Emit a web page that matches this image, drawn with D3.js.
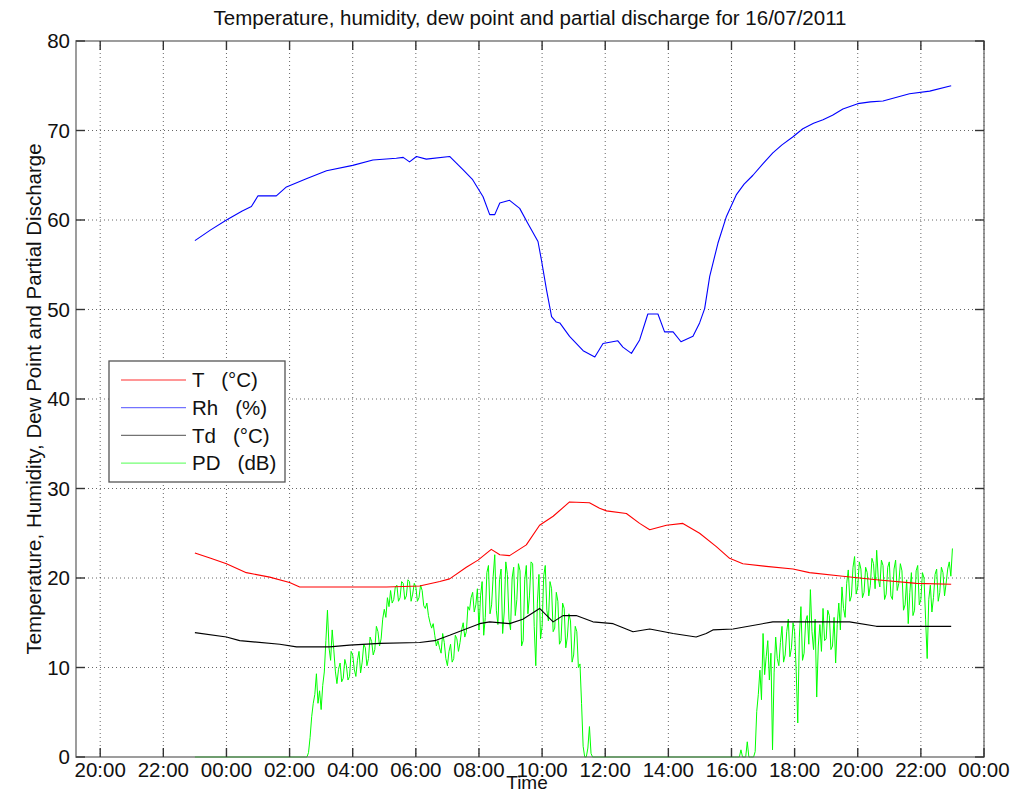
<!DOCTYPE html>
<html>
<head>
<meta charset="utf-8">
<script src="https://cdnjs.cloudflare.com/ajax/libs/d3/7.8.5/d3.min.js"></script>
<style>
  body { margin: 0; background: #fff; }
  svg text { font-family: "Liberation Sans", Arial, Helvetica, sans-serif; fill: #111; }
  .legend text { white-space: pre; }
</style>
</head>
<body>
<div id="chart"></div>
<script>
// hours are counted from 16/07/2011 00:00 (negative = evening of the 15th)
var titleText = "Temperature, humidity, dew point and partial discharge for 16/07/2011";
var yLabelText = "Temperature, Humidity, Dew Point and Partial Discharge";
var xLabelText = "Time";
var yTicks = [0, 10, 20, 30, 40, 50, 60, 70, 80];

// relative humidity (%)
var rhData = [[-1.0,57.7],[-0.5,58.9],[0,60.0],[0.5,61.0],[0.79,61.5],[1.0,62.7],[1.58,62.7],[1.9,63.7],
  [2.53,64.6],[3.17,65.5],[4.0,66.1],[4.64,66.7],[5.38,66.9],[5.6,67.0],[5.8,66.5],[6.02,67.1],[6.33,66.8],
  [7.07,67.1],[7.5,65.6],[7.8,64.5],[8.13,62.6],[8.34,60.6],[8.5,60.6],[8.66,61.9],[8.97,62.2],[9.29,61.3],
  [9.55,59.6],[9.87,57.6],[9.98,55.5],[10.14,52.2],[10.3,49.2],[10.45,48.6],[10.56,48.5],[10.87,47.0],
  [11.3,45.4],[11.67,44.7],[11.93,46.2],[12.4,46.5],[12.56,45.8],[12.83,45.1],[13.09,46.6],[13.35,49.5],
  [13.67,49.5],[13.88,47.5],[14.15,47.5],[14.4,46.4],[14.78,47.0],[14.99,48.5],[15.15,50.1],[15.31,53.7],
  [15.57,57.4],[15.84,60.4],[16.15,62.8],[16.4,64.0],[16.68,65.0],[17.0,66.3],[17.31,67.5],[17.6,68.4],
  [17.95,69.3],[18.26,70.2],[18.6,70.8],[18.9,71.2],[19.2,71.7],[19.53,72.4],[20.0,73.0],[20.4,73.2],
  [20.8,73.3],[21.64,74.1],[22.28,74.4],[22.96,75.0]];

// temperature (°C)
var tData = [[-1.0,22.8],[-0.5,22.2],[0,21.6],[0.63,20.6],[1.37,20.1],[2.0,19.5],[2.32,19.0],[3.8,19.0],
  [5.07,19.0],[6.12,19.1],[6.76,19.6],[7.07,19.9],[7.6,21.2],[7.97,22.0],[8.39,23.2],[8.66,22.6],[8.97,22.5],
  [9.5,23.7],[9.92,25.9],[10.35,26.9],[10.87,28.5],[11.5,28.4],[11.82,27.8],[12.04,27.5],[12.67,27.2],
  [13.09,26.1],[13.41,25.4],[13.94,25.9],[14.46,26.1],[14.99,25.0],[15.52,23.5],[15.94,22.2],[16.36,21.6],
  [17.1,21.3],[17.95,21.0],[18.47,20.6],[19.53,20.2],[20.59,19.8],[21.86,19.4],[22.96,19.3]];

// dew point (°C)
var tdData = [[-1,13.9],[0,13.4],[0.42,13.0],[1.69,12.6],[2.22,12.3],[3.27,12.3],[3.9,12.5],[4.86,12.7],
  [6.12,12.8],[6.6,13.0],[7.07,13.6],[8.02,14.9],[8.34,15.1],[8.97,14.9],[9.39,15.4],[9.92,16.6],[10.35,15.1],
  [10.66,15.8],[11.08,15.8],[11.61,15.1],[12.25,14.9],[12.88,14.0],[13.41,14.3],[14.15,13.8],[14.88,13.4],
  [15.2,13.8],[15.41,14.2],[16.05,14.3],[16.36,14.5],[17.31,15.1],[19.74,15.1],[20.59,14.6],[22.96,14.6]];

// partial discharge (dB), one reading every 3 minutes while active, 0 otherwise
var pdStartHour = -1;
var pdStepHours = 0.05;
var pdBurstAStart = 2.5;
var pdBurstA = [
  0,0,0.5,2.2,4.5,6.0,7.0,9.3,6.0,7.4,            // 02:30
  5.3,8.0,9.5,13.0,16.4,12.2,10.8,14.2,12.0,9.6,  // 03:00
  8.2,9.8,10.5,8.4,8.8,10.9,10.2,8.6,9.0,11.8,    // 03:30
  11.4,9.8,9.0,10.8,11.8,9.4,10.6,12.6,12.2,10.2, // 04:00
  11.0,13.4,12.9,11.4,12.0,14.6,14.0,12.4,13.2,15.4, // 04:30
  16.5,15.6,17.8,16.8,18.6,17.2,17.6,19.0,19.2,17.4, // 05:00
  17.8,19.6,19.4,17.6,18.0,19.8,19.6,17.4,18.2,19.4, // 05:30
  19.0,17.4,17.8,19.2,18.6,16.9,16.6,17.2,15.8,15.0, // 06:00
  14.4,14.9,13.6,12.4,13.0,12.2,11.6,13.8,12.8,11.0, // 06:30
  10.2,11.8,12.6,10.6,11.0,13.6,13.2,11.8,12.8,14.2, // 07:00
  15.0,13.4,14.0,16.8,16.4,17.8,18.4,16.2,17.0,18.8, // 07:30
  14.2,18.0,19.6,13.6,15.6,20.6,21.4,16.0,17.0,20.2, // 08:00
  22.6,16.4,14.8,19.8,21.0,13.8,16.2,21.8,20.4,15.4, // 08:30
  14.2,20.0,21.2,15.8,17.6,21.6,20.8,12.4,13.0,19.8, // 09:00
  21.4,16.0,18.0,21.8,21.6,14.6,10.2,17.2,20.4,13.2, // 09:30
  14.6,20.2,21.4,16.4,15.2,19.6,18.8,14.0,14.4,18.4, // 10:00
  17.4,12.6,13.0,17.2,16.6,12.2,13.4,16.0,15.2,10.6, // 10:30
  11.4,14.6,14.0,10.0,10.4,6.0,1.2,0,0,1.0,          // 11:00
  3.4,0.4,0];                                        // 11:30
var pdBurstBStart = 16.1;
var pdBurstB = [
  0,0,0,0,0.8,0,0,0,                                 // 16:06
  1.7,0,0,0,0,0.6,5.1,7.0,9.7,6.4,                   // 16:30
  13.8,9.2,11.2,13.0,8.6,11.6,0.8,9.4,13.4,11.0,     // 17:00
  10.2,12.8,14.6,10.6,11.4,14.0,15.4,11.2,12.2,15.0, // 17:30
  14.0,9.6,3.8,13.4,16.8,10.8,11.6,15.2,15.8,12.6,   // 18:00
  18.7,14.0,12.0,15.4,6.7,12.4,14.8,11.8,16.6,13.0,  // 18:30
  13.2,16.4,15.8,12.0,12.4,15.6,10.5,14.8,17.2,14.2, // 19:00
  19.0,16.6,15.6,19.4,20.9,17.4,18.0,21.2,22.4,18.2, // 19:30
  19.0,21.8,21.0,17.8,18.4,21.2,20.6,18.0,19.2,22.2, // 20:00
  21.6,18.8,23.1,20.0,19.0,22.0,21.4,17.6,18.2,21.2, // 20:30
  21.8,18.0,17.6,21.0,22.0,18.6,19.4,21.6,20.8,16.4, // 21:00
  17.0,19.8,14.9,18.4,20.6,15.8,16.4,20.8,21.4,17.0, // 21:30
  17.6,20.6,20.0,15.4,11.0,17.6,19.2,16.2,17.8,20.4, // 22:00
  21.0,17.4,18.4,21.2,20.6,18.0,19.4,21.0,21.8,20.2, // 22:30
  23.3];                                             // 23:00

var seriesNames = ["T   (°C)", "Rh   (%)", "Td   (°C)", "PD   (dB)"];
var seriesColors = ["#ff0000", "#0000ff", "#000000", "#00ff00"];

(function(){
	var width = 1024,
	    height = 791;
	var margin = { top: 41, right: 40, bottom: 34, left: 76 };

	var svg = d3.select("#chart")
	  .append("svg")
	  .attr("width", width)
	  .attr("height", height);

	var day = new Date(2011, 6, 16, 0, 0);
	function toDate(h) {
		return new Date(day.getTime() + h * 3600000);
	}

	var xScale = d3.scaleTime()
	  .domain([new Date(2011, 6, 15, 19, 14), new Date(2011, 6, 17, 0, 0)])
	  .range([margin.left, width - margin.right]);

	var yScale = d3.scaleLinear()
	  .domain([0, 80])
	  .range([height - margin.bottom, margin.top]);

	var x0 = xScale.range()[0], x1 = xScale.range()[1];
	var y0 = yScale.range()[0], y1 = yScale.range()[1];

	var xTicks = xScale.ticks(d3.timeHour.every(2));

	// build the PD series: zeros, first burst, quiet period, second burst
	var pdData = [[pdStartHour, 0]];
	pdBurstA.forEach(function(v, i) { pdData.push([pdBurstAStart + i * pdStepHours, v]); });
	pdBurstB.forEach(function(v, i) { pdData.push([pdBurstBStart + i * pdStepHours, v]); });

	// dotted grid
	var grid = svg.append("g").attr("class", "grid");
	grid.selectAll(".vgrid")
	  .data(xTicks)
	  .enter().append("line")
	  .attr("x1", function(d) { return xScale(d) })
	  .attr("x2", function(d) { return xScale(d) })
	  .attr("y1", y1)
	  .attr("y2", y0)
	  .attr("stroke", "#000")
	  .attr("stroke-opacity", 0.6)
	  .attr("stroke-dasharray", "1,3");
	grid.selectAll(".hgrid")
	  .data(yTicks.slice(1, -1))
	  .enter().append("line")
	  .attr("x1", x0)
	  .attr("x2", x1)
	  .attr("y1", function(d) { return yScale(d) })
	  .attr("y2", function(d) { return yScale(d) })
	  .attr("stroke", "#000")
	  .attr("stroke-opacity", 0.6)
	  .attr("stroke-dasharray", "1,3");

	svg.append("clipPath").attr("id", "plot-clip")
	  .append("rect")
	  .attr("x", x0).attr("y", y1)
	  .attr("width", x1 - x0).attr("height", y0 - y1 + 1);

	var line = d3.line()
	  .x(function(d) { return xScale(toDate(d[0])) })
	  .y(function(d) { return yScale(d[1]) });

	var allSeries = [tData, rhData, tdData, pdData];
	var plot = svg.append("g").attr("clip-path", "url(#plot-clip)");
	// draw PD first so the others sit over it like matlab
	[3, 0, 1, 2].forEach(function(i) {
		plot.append("path")
		  .datum(allSeries[i])
		  .attr("fill", "none")
		  .attr("stroke", seriesColors[i])
		  .attr("stroke-width", i === 3 ? 1 : 1.1)
		  .attr("stroke-linejoin", "round")
		  .attr("d", line);
	});

	// axes box
	svg.append("rect")
	  .attr("x", x0).attr("y", y1)
	  .attr("width", x1 - x0).attr("height", y0 - y1)
	  .attr("fill", "none")
	  .attr("stroke", "#666")
	  .attr("stroke-opacity", 0.8)
	  .attr("stroke-width", 1.6);

	// inward tick marks on all four sides
	var tickLen = 9;
	var ticks = svg.append("g").attr("stroke", "#333").attr("stroke-width", 1.4);
	xTicks.forEach(function(d) {
		var x = xScale(d);
		ticks.append("line").attr("x1", x).attr("x2", x).attr("y1", y0).attr("y2", y0 - tickLen);
		ticks.append("line").attr("x1", x).attr("x2", x).attr("y1", y1).attr("y2", y1 + tickLen);
	});
	yTicks.forEach(function(d) {
		var y = yScale(d);
		ticks.append("line").attr("x1", x0).attr("x2", x0 + tickLen).attr("y1", y).attr("y2", y);
		ticks.append("line").attr("x1", x1).attr("x2", x1 - tickLen).attr("y1", y).attr("y2", y);
	});

	var fmt = d3.timeFormat("%H:%M");
	svg.selectAll(".xlabel")
	  .data(xTicks)
	  .enter().append("text")
	  .attr("x", function(d) { return xScale(d) })
	  .attr("y", 777)
	  .attr("text-anchor", "middle")
	  .style("font-size", "20.5px")
	  .text(function(d) { return fmt(d) });

	svg.selectAll(".ylabel")
	  .data(yTicks)
	  .enter().append("text")
	  .attr("x", 70)
	  .attr("y", function(d) { return yScale(d) })
	  .attr("dy", "0.36em")
	  .attr("text-anchor", "end")
	  .style("font-size", "20.5px")
	  .text(function(d) { return d });

	svg.append("text")
	  .attr("x", (x0 + x1) / 2)
	  .attr("y", 25)
	  .attr("text-anchor", "middle")
	  .style("font-size", "20.5px")
	  .text(titleText);

	// the reference draws "Time" right under the ticks, overlapping them a bit
	svg.append("text")
	  .attr("x", (x0 + x1) / 2 - 3)
	  .attr("y", 789)
	  .attr("text-anchor", "middle")
	  .style("font-size", "19px")
	  .text(xLabelText);

	svg.append("text")
	  .attr("transform", "translate(41," + ((y0 + y1) / 2) + ") rotate(-90)")
	  .attr("text-anchor", "middle")
	  .style("font-size", "20.5px")
	  .text(yLabelText);

	// legend box
	var legend = svg.append("g").attr("class", "legend");
	legend.append("rect")
	  .attr("x", 109).attr("y", 361)
	  .attr("width", 176).attr("height", 121)
	  .attr("fill", "#fff")
	  .attr("stroke", "#555")
	  .attr("stroke-width", 1.3);

	var rows = legend.selectAll(".row")
	  .data(seriesNames)
	  .enter().append("g")
	  .attr("transform", function(d, i) { return "translate(0," + (380 + i * 27.7) + ")" });
	rows.append("line")
	  .attr("x1", 121).attr("x2", 186)
	  .attr("stroke", function(d, i) { return seriesColors[i] })
	  .attr("stroke-opacity", 0.55)
	  .attr("stroke-width", 1.3);
	rows.append("text")
	  .attr("x", 192)
	  .attr("dy", "0.36em")
	  .style("font-size", "20.5px")
	  .text(function(d) { return d });
})();
</script>
</body>
</html>
